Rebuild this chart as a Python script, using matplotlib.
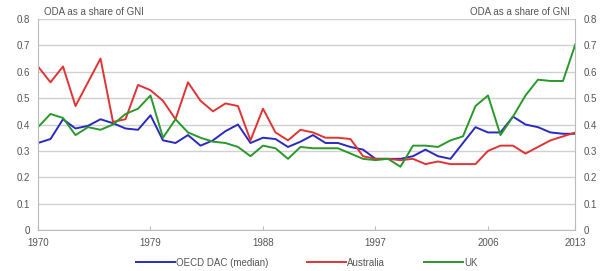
import numpy as np
import matplotlib.pyplot as plt

plt.rcParams['font.family'] = ['Liberation Sans', 'DejaVu Sans']

years = list(range(1970, 2014))

oecd_median = [0.33, 0.345, 0.42, 0.385, 0.395, 0.42, 0.405, 0.385, 0.38, 0.435,
               0.34, 0.33, 0.36, 0.32, 0.34, 0.375, 0.40, 0.33, 0.35, 0.345,
               0.315, 0.335, 0.36, 0.33, 0.33, 0.315, 0.305, 0.27, 0.27, 0.27,
               0.28, 0.305, 0.28, 0.27, 0.33, 0.39, 0.37, 0.37, 0.43, 0.40,
               0.39, 0.37, 0.365, 0.365]
australia = [0.62, 0.56, 0.62, 0.47, 0.56, 0.65, 0.41, 0.42, 0.55, 0.53,
             0.49, 0.42, 0.56, 0.49, 0.45, 0.48, 0.47, 0.34, 0.46, 0.37,
             0.34, 0.38, 0.37, 0.35, 0.35, 0.345, 0.28, 0.27, 0.27, 0.265,
             0.27, 0.25, 0.26, 0.25, 0.25, 0.25, 0.30, 0.32, 0.32, 0.29,
             0.315, 0.34, 0.355, 0.37]
uk = [0.39, 0.44, 0.425, 0.36, 0.39, 0.38, 0.40, 0.44, 0.46, 0.51,
      0.35, 0.42, 0.37, 0.35, 0.335, 0.33, 0.315, 0.28, 0.32, 0.31,
      0.27, 0.315, 0.31, 0.31, 0.31, 0.29, 0.27, 0.265, 0.27, 0.24,
      0.32, 0.32, 0.315, 0.34, 0.355, 0.47, 0.51, 0.36, 0.43, 0.51,
      0.57, 0.565, 0.565, 0.705]

x_ticks = [1970, 1979, 1988, 1997, 2006, 2013]
y_ticks = [0, 0.1, 0.2, 0.3, 0.4, 0.5, 0.6, 0.7, 0.8]

txt = '#555555'
axis_col = '#bbbbbb'

fig = plt.figure(figsize=(6.08, 2.71), dpi=100)
ax = fig.add_axes([0.0625, 0.151, 0.884, 0.779])

ax.plot(years, oecd_median, color='#2a2ac0', lw=1.4, label='OECD DAC (median)')
ax.plot(years, australia, color='#e03434', lw=1.4, label='Australia')
ax.plot(years, uk, color='#2a982a', lw=1.4, label='UK')

ax.set_xlim(1970, 2013)
ax.set_ylim(0, 0.8)
ax.set_xticks(x_ticks)
ax.set_yticks(y_ticks)
ax.set_yticklabels([f'{v:g}' for v in y_ticks])
ax.grid(axis='y', color='#d0d0d0', lw=1)
ax.set_axisbelow(True)

for s in ['left', 'right', 'bottom']:
    ax.spines[s].set_color(axis_col)
ax.spines['top'].set_visible(False)

ax.tick_params(axis='x', direction='in', length=3, color=axis_col,
               labelsize=7, labelcolor=txt, pad=6)
ax.tick_params(axis='y', length=0, labelsize=7, labelcolor=txt, pad=6,
               labelright=True)

# axis titles sit just above the plot, inside each corner
ax.text(0.012, 1.01, 'ODA as a share of GNI', transform=ax.transAxes,
        ha='left', va='bottom', fontsize=7, color=txt)
ax.text(0.99, 1.01, 'ODA as a share of GNI', transform=ax.transAxes,
        ha='right', va='bottom', fontsize=7, color=txt)

ax.legend(loc='upper center', bbox_to_anchor=(0.5, -0.09), ncol=3, frameon=False,
          fontsize=7, labelcolor=txt, handlelength=4, handletextpad=0.1,
          columnspacing=4)

fig.savefig('out.png', dpi=100)
